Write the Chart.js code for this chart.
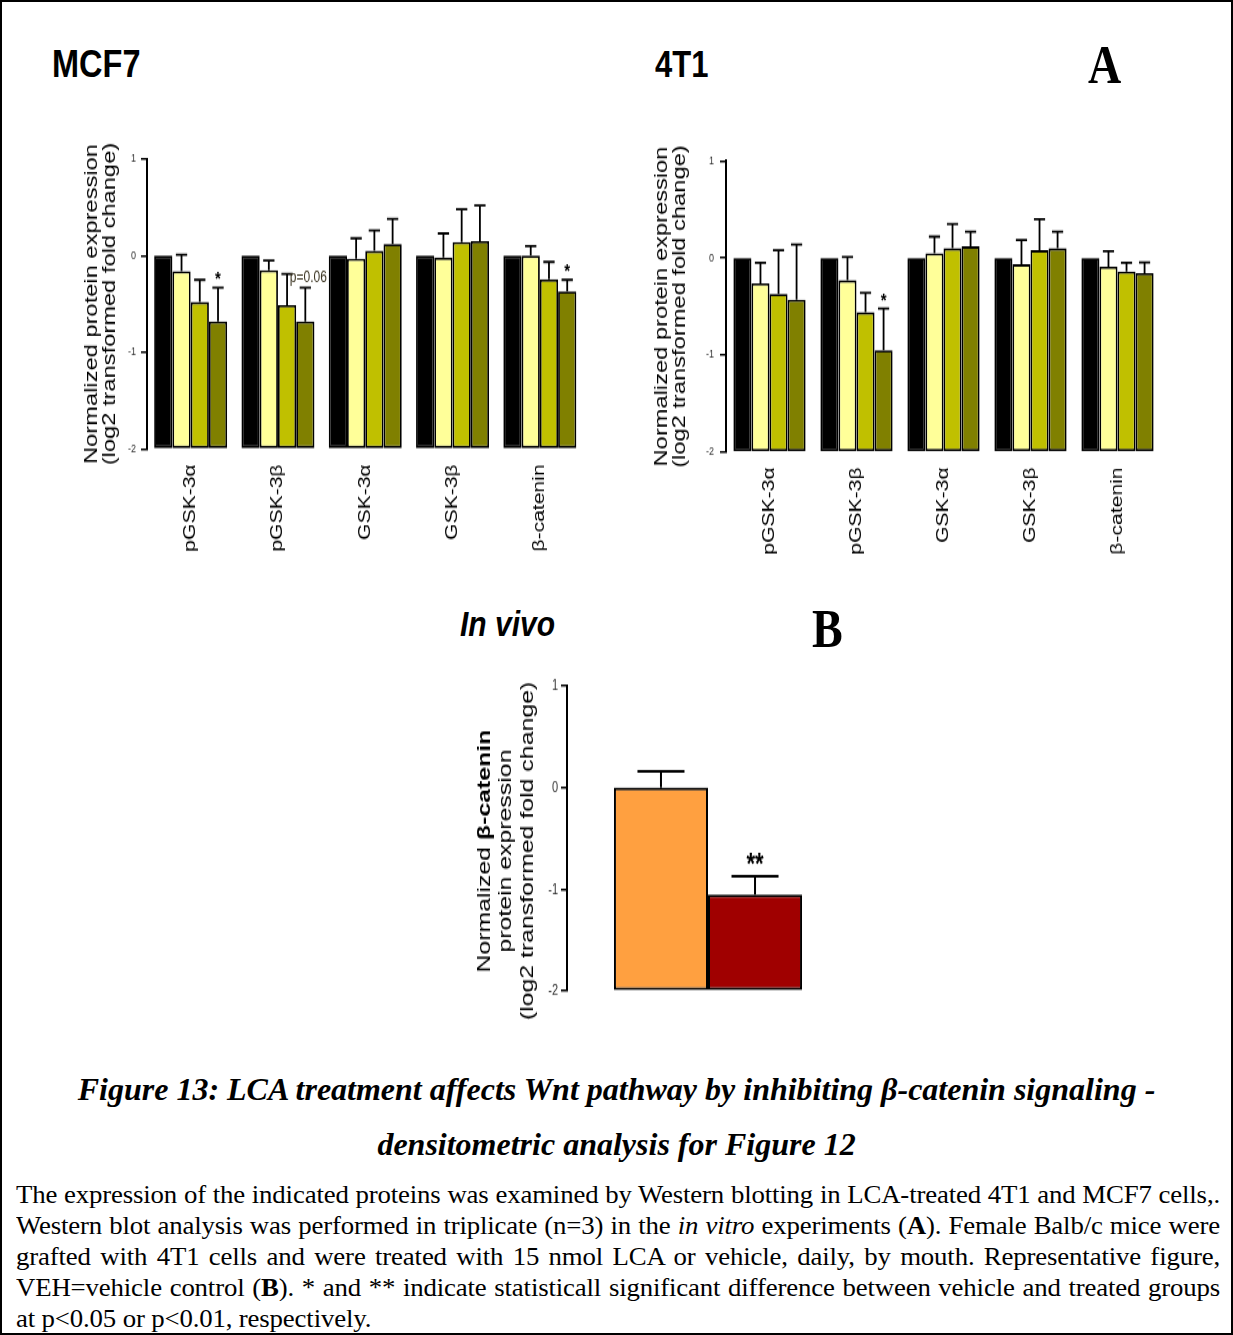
<!DOCTYPE html>
<html>
<head>
<meta charset="utf-8">
<script src="https://cdn.jsdelivr.net/npm/chart.js@4.4.1/dist/chart.umd.min.js"></script>
<style>
  html, body { margin: 0; padding: 0; background: #fff; }
  body { width: 1233px; height: 1335px; position: relative; overflow: hidden; font-family: "Liberation Sans", Arial, sans-serif; }
  .frame { position: absolute; left: 0; top: 0; width: 1233px; height: 1335px; box-sizing: border-box; border: 2px solid #000; }
  .panel { position: absolute; transform-origin: 0 0; }
  .panel canvas { display: block; }
  .hdr { position: absolute; line-height: 1; white-space: nowrap; transform-origin: 0 0; color: #000; }
  .cell { font: bold 31px "Liberation Sans", Arial, sans-serif; transform: scaleY(1.18); }
  .letter { font: bold 46px "Liberation Serif", "Times New Roman", serif; transform: scaleY(1.18); }
  .vivo { font: italic bold 30px "Liberation Sans", Arial, sans-serif; transform: scaleY(1.15); }
  .figtitle { position: absolute; left: 0; width: 1233px; text-align: center; white-space: nowrap;
              font: italic bold 32px "Liberation Serif", "Times New Roman", serif; line-height: 1; }
  .body { position: absolute; left: 16px; width: 1204px; white-space: nowrap;
          font: 26.8px "Liberation Serif", "Times New Roman", serif; line-height: 31px; letter-spacing: -0.15px;
          text-align: justify; text-align-last: justify; transform-origin: 0 0; transform: scaleY(0.9); }
  .body.last { text-align: left; text-align-last: left; }
</style>
</head>
<body>
<div class="frame"></div>

<div class="hdr cell" style="left:52px;top:43px;font-size:32.5px">MCF7</div>
<div class="hdr cell" style="left:655px;top:44px">4T1</div>
<div class="hdr letter" style="left:1088px;top:33px">A</div>
<div class="hdr vivo" style="left:460px;top:605px">In vivo</div>
<div class="hdr letter" style="left:812px;top:597px">B</div>

<div class="panel" style="left:82px;top:140px;transform:scaleY(1.28)"><canvas id="mcf7" width="510" height="330"></canvas></div>
<div class="panel" style="left:652px;top:140px;transform:scaleY(1.28)"><canvas id="t41" width="515" height="330"></canvas></div>
<div class="panel" style="left:474px;top:672px;transform:scaleY(1.38)"><canvas id="invivo" width="385" height="270"></canvas></div>

<div class="figtitle" style="top:1073px">Figure 13: LCA treatment affects Wnt pathway by inhibiting β-catenin signaling -</div>
<div class="figtitle" style="top:1128px">densitometric analysis for Figure 12</div>

<div class="body" style="top:1181px">The expression of the indicated proteins was examined by Western blotting in LCA-treated 4T1 and MCF7 cells,.</div>
<div class="body" style="top:1212px">Western blot analysis was performed in triplicate (n=3) in the <i>in vitro</i> experiments (<b>A</b>). Female Balb/c mice were</div>
<div class="body" style="top:1243px">grafted with 4T1 cells and were treated with 15 nmol LCA or vehicle, daily, by mouth. Representative figure,</div>
<div class="body" style="top:1274px">VEH=vehicle control (<b>B</b>). * and ** indicate statisticall significant difference between vehicle and treated groups</div>
<div class="body last" style="top:1305px">at p&lt;0.05 or p&lt;0.01, respectively.</div>

<script>
// ---- data -------------------------------------------------------------
const proteins = ['pGSK-3α', 'pGSK-3β', 'GSK-3α', 'GSK-3β', 'β-catenin'];
const seriesNames = ['Vehicle', 'LCA dose 1', 'LCA dose 2', 'LCA dose 3'];
const yTicks = [1, 0, -1, -2];

// MCF7 cells: mean log2 fold change and upper error
const mcf7Vehicle = [0, 0, 0, 0, 0];
const mcf7Dose1   = [-0.16, -0.15, -0.03, -0.02, 0.00];
const mcf7Dose2   = [-0.48, -0.51, 0.05, 0.14, -0.245];
const mcf7Dose3   = [-0.68, -0.68, 0.12, 0.15, -0.37];
const mcf7Dose1Err = [0.17, 0.10, 0.21, 0.25, 0.10];
const mcf7Dose2Err = [0.23, 0.32, 0.21, 0.34, 0.18];
const mcf7Dose3Err = [0.35, 0.35, 0.26, 0.37, 0.12];
const mcf7Marks = [
  { series: 3, group: 0, text: '*' },
  { series: 3, group: 1, text: 'p=0.06' },
  { series: 3, group: 4, text: '*' }
];

// 4T1 cells
const t41Vehicle = [0, 0, 0, 0, 0];
const t41Dose1   = [-0.26, -0.23, 0.05, -0.065, -0.09];
const t41Dose2   = [-0.37, -0.56, 0.10, 0.08, -0.14];
const t41Dose3   = [-0.43, -0.95, 0.12, 0.10, -0.155];
const t41Dose1Err = [0.21, 0.24, 0.17, 0.25, 0.16];
const t41Dose2Err = [0.45, 0.20, 0.25, 0.32, 0.09];
const t41Dose3Err = [0.57, 0.43, 0.15, 0.17, 0.11];
const t41Marks = [ { series: 3, group: 1, text: '*' } ];

// In vivo tumours, β-catenin
const vivoGroups = ['VEH', 'LCA'];
const vivoMeans  = [0, -1.05];
const vivoErr    = [0.16, 0.18];
const vivoMarks  = [ { series: 1, group: 0, text: '**' } ];

// ---- styling ------------------------------------------------------------
Chart.defaults.font.family = "'Liberation Sans', Arial, sans-serif";
const seriesColors = ['#000000', '#FFFF99', '#C0C000', '#808000'];
const vivoColors = ['#FFA040', '#A00000'];
const markStyles = {
  '*':      { font: 'bold 15px "Liberation Sans", Arial', gap: 2, dx: 0, color: '#000' },
  'p=0.06': { font: '12px "Liberation Sans", Arial', gap: 4, dx: 3, color: '#3a3320' },
  '**':     { font: 'bold 22px "Liberation Sans", Arial', gap: 1.5, dx: 0, color: '#000' }
};

// upward error bars plus significance labels, placed via the value scale
function errorBarPlugin(errs, marks, opts) {
  return {
    id: 'errorBars',
    afterDatasetsDraw(chart) {
      const ctx = chart.ctx, y = chart.scales.y;
      ctx.save();
      ctx.strokeStyle = '#000';
      ctx.lineWidth = opts.lineWidth;
      errs.forEach((arr, di) => {
        if (!arr) return;
        const vals = chart.data.datasets[di].data;
        chart.getDatasetMeta(di).data.forEach((bar, j) => {
          const top = y.getPixelForValue(vals[j] + arr[j]);
          const half = bar.width * opts.cap / 2;
          ctx.beginPath();
          ctx.moveTo(bar.x, bar.y);
          ctx.lineTo(bar.x, top);
          ctx.moveTo(bar.x - half, top);
          ctx.lineTo(bar.x + half, top);
          ctx.stroke();
        });
      });
      marks.forEach(m => {
        const st = markStyles[m.text];
        const bar = chart.getDatasetMeta(m.series).data[m.group];
        const v = chart.data.datasets[m.series].data[m.group] + errs[m.series][m.group];
        const top = y.getPixelForValue(v);
        ctx.fillStyle = st.color;
        ctx.font = st.font;
        ctx.textAlign = 'center';
        ctx.textBaseline = (m.text === 'p=0.06') ? 'middle' : 'alphabetic';
        ctx.fillText(m.text, bar.x + st.dx, top - st.gap - (m.text === 'p=0.06' ? 3.5 : 0));
      });
      ctx.restore();
    }
  };
}

function yScale(cfg) {
  return {
    min: yTicks[yTicks.length - 1],
    max: yTicks[0],
    afterBuildTicks: s => { s.ticks = yTicks.map(v => ({ value: v })); },
    afterFit: s => { s.width = cfg.yWidth; },
    ticks: { padding: cfg.tickPad, color: '#333', font: { size: cfg.tickSize } },
    grid: { drawOnChartArea: false, drawTicks: true, tickLength: 6, color: '#000', lineWidth: 1.5 },
    border: { display: true, color: '#000', width: 2 },
    title: cfg.title ? { display: true, text: cfg.title, color: '#000', padding: 0,
                         font: { size: 18.5, lineHeight: 1.02 } } : { display: false }
  };
}

function proteinChart(id, series, errs, marks, cfg) {
  return new Chart(document.getElementById(id), {
    type: 'bar',
    data: {
      labels: proteins,
      datasets: series.map((vals, i) => ({
        label: seriesNames[i],
        data: vals,
        base: yTicks[yTicks.length - 1],
        backgroundColor: seriesColors[i],
        borderColor: '#000',
        borderWidth: 1.8,
        borderSkipped: false,
        categoryPercentage: cfg.catPct,
        barPercentage: 1
      }))
    },
    options: {
      responsive: false,
      animation: false,
      devicePixelRatio: 1,
      layout: { padding: { top: cfg.padTop, right: cfg.padRight, left: 0, bottom: 0 } },
      plugins: { legend: { display: false }, tooltip: { enabled: false } },
      scales: {
        x: {
          offset: true,
          grid: { display: false, drawTicks: false },
          border: { display: false },
          afterFit: s => { s.height = cfg.xHeight; },
          ticks: { autoSkip: false, minRotation: 90, maxRotation: 90, padding: 12,
                   color: '#000', font: { size: 16.5 } }
        },
        y: yScale(cfg)
      }
    },
    plugins: [errorBarPlugin(errs, marks, { lineWidth: 1.8, cap: 0.62 })]
  });
}

const yTitle = ['Normalized protein expression', '(log2 transformed fold change)'];

proteinChart('mcf7',
  [mcf7Vehicle, mcf7Dose1, mcf7Dose2, mcf7Dose3],
  [null, mcf7Dose1Err, mcf7Dose2Err, mcf7Dose3Err],
  mcf7Marks,
  { yWidth: 65, tickPad: 5, tickSize: 9, title: yTitle, catPct: 0.836,
    padTop: 14.84, padRight: 8.5, xHeight: 88.6 });

proteinChart('t41',
  [t41Vehicle, t41Dose1, t41Dose2, t41Dose3],
  [null, t41Dose1Err, t41Dose2Err, t41Dose3Err],
  t41Marks,
  { yWidth: 74, tickPad: 6, tickSize: 9, title: yTitle, catPct: 0.83,
    padTop: 16.4, padRight: 6, xHeight: 86.25 });

// y title for the in vivo panel, with the protein name in bold
const vivoTitlePlugin = {
  id: 'vivoTitle',
  afterDraw(chart) {
    const ctx = chart.ctx, ys = chart.scales.y;
    const lh = 21.6, cy = (ys.top + ys.bottom) / 2 + 9;
    const lines = [
      [['Normalized ', '18px "Liberation Sans", Arial'], ['β-catenin', 'bold 18px "Liberation Sans", Arial']],
      [['protein expression', '18px "Liberation Sans", Arial']],
      [['(log2 transformed fold change)', '18px "Liberation Sans", Arial']]
    ];
    ctx.save();
    ctx.fillStyle = '#000';
    ctx.textBaseline = 'middle';
    ctx.textAlign = 'left';
    lines.forEach((parts, i) => {
      let w = 0;
      parts.forEach(p => { ctx.font = p[1]; w += ctx.measureText(p[0]).width; });
      ctx.save();
      ctx.translate(ys.left + lh / 2 + i * lh, cy);
      ctx.rotate(-Math.PI / 2);
      let x = -w / 2;
      parts.forEach(p => { ctx.font = p[1]; ctx.fillText(p[0], x, 0); x += ctx.measureText(p[0]).width; });
      ctx.restore();
    });
    ctx.restore();
  }
};

new Chart(document.getElementById('invivo'), {
  type: 'bar',
  data: {
    labels: ['β-catenin'],
    datasets: vivoGroups.map((g, i) => ({
      label: g,
      data: [vivoMeans[i]],
      base: yTicks[yTicks.length - 1],
      backgroundColor: vivoColors[i],
      borderColor: '#000',
      borderWidth: 2,
      borderSkipped: false,
      categoryPercentage: 0.667,
      barPercentage: 1
    }))
  },
  options: {
    responsive: false,
    animation: false,
    devicePixelRatio: 1,
    layout: { padding: { top: 10.1, right: 10, left: 0, bottom: 38.8 } },
    plugins: { legend: { display: false }, tooltip: { enabled: false } },
    scales: {
      x: { display: false, offset: true },
      y: yScale({ yWidth: 93, tickPad: 3, tickSize: 11, title: null })
    }
  },
  plugins: [errorBarPlugin(vivoErr.map(e => [e]), vivoMarks, { lineWidth: 2, cap: 0.5 }), vivoTitlePlugin]
});
</script>
</body>
</html>
